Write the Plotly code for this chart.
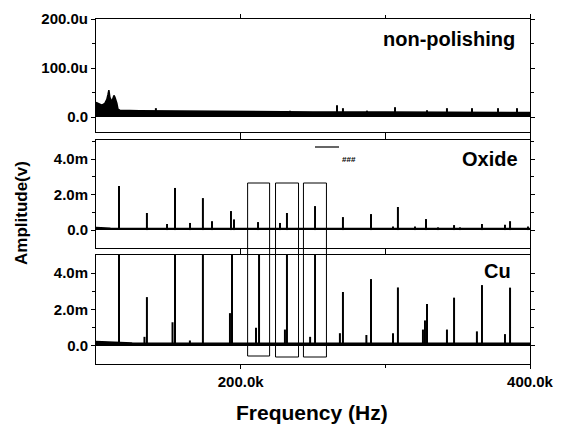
import plotly.graph_objects as go

# ---------------- data (frequency in Hz) ----------------
# non-polishing panel: noise envelope (Hz, V) and small spikes
np_band_freq = [100.0e3, 102.0e3, 104.1e3, 106.1e3, 107.5e3, 108.3e3, 108.9e3, 109.6e3,
                110.3e3, 111.0e3, 111.7e3, 112.4e3, 113.1e3, 113.8e3, 114.4e3, 115.2e3,
                116.5e3, 130.0e3, 160.0e3, 200.0e3, 250.0e3, 300.0e3, 350.0e3, 400.0e3]
np_band_amp = [30e-6, 27e-6, 24e-6, 28e-6, 36e-6, 46e-6, 55e-6, 40e-6,
               33e-6, 31e-6, 38e-6, 44e-6, 40e-6, 34e-6, 28e-6, 16e-6,
               14e-6, 13e-6, 12e-6, 11e-6, 10e-6, 10e-6, 9e-6, 9e-6]
np_peak_freq = [141.4e3, 234.1e3, 266.6e3, 270.7e3, 287.3e3, 306.7e3, 328.8e3,
                342.6e3, 359.9e3, 377.9e3, 391.0e3]
np_peak_amp = [18e-6, 13e-6, 24e-6, 18e-6, 13e-6, 20e-6, 14e-6,
               18e-6, 18e-6, 18e-6, 18e-6]

# Oxide panel
ox_band_freq = [100.0e3, 110.0e3, 200.0e3, 300.0e3, 400.0e3]
ox_band_amp = [0.14e-3, 0.10e-3, 0.09e-3, 0.09e-3, 0.09e-3]
ox_peak_freq = [115.9e3, 135.2e3, 149.1e3, 154.6e3, 165.0e3, 173.9e3, 180.2e3, 193.3e3,
                195.4e3, 212.0e3, 227.2e3, 232.0e3, 251.4e3, 270.7e3, 290.1e3, 305.3e3,
                308.7e3, 320.5e3, 328.1e3, 336.4e3, 347.5e3, 351.6e3, 366.8e3, 382.7e3,
                386.2e3, 398.6e3]
ox_peak_amp = [2.48e-3, 0.96e-3, 0.34e-3, 2.37e-3, 0.40e-3, 1.80e-3, 0.50e-3, 1.07e-3,
               0.60e-3, 0.45e-3, 0.40e-3, 0.96e-3, 1.35e-3, 0.73e-3, 0.90e-3, 0.20e-3,
               1.30e-3, 0.20e-3, 0.62e-3, 0.15e-3, 0.28e-3, 0.15e-3, 0.34e-3, 0.30e-3,
               0.50e-3, 0.20e-3]

# Cu panel
cu_band_freq = [100.0e3, 112.0e3, 118.0e3, 125.0e3, 200.0e3, 300.0e3, 400.0e3]
cu_band_amp = [0.24e-3, 0.22e-3, 0.18e-3, 0.16e-3, 0.15e-3, 0.15e-3, 0.15e-3]
cu_peak_freq = [115.9e3, 135.2e3, 154.6e3, 173.9e3, 194.0e3, 212.7e3, 232.0e3, 251.4e3,
                270.7e3, 290.1e3, 308.7e3, 328.8e3, 347.5e3, 366.8e3, 386.2e3]
cu_peak_amp = [6.0e-3, 2.68e-3, 6.0e-3, 6.0e-3, 6.0e-3, 6.0e-3, 6.0e-3, 6.0e-3,
               2.96e-3, 3.67e-3, 3.21e-3, 2.30e-3, 2.65e-3, 3.34e-3, 3.20e-3]
cu_side_freq = [133.5e3, 152.9e3, 164.9e3, 192.6e3, 210.6e3, 230.6e3, 248.0e3, 268.6e3,
                286.9e3, 305.3e3, 326.0e3, 327.4e3, 342.6e3, 363.3e3, 382.7e3]
cu_side_amp = [0.5e-3, 1.3e-3, 0.3e-3, 1.8e-3, 1.0e-3, 0.9e-3, 0.5e-3, 0.7e-3,
               0.6e-3, 0.7e-3, 0.9e-3, 1.4e-3, 0.9e-3, 0.8e-3, 0.65e-3]

# boxes (Hz)
box_x0 = [204.8e3, 224.1e3, 243.4e3]
box_x1 = [220.0e3, 240.0e3, 259.3e3]
box_bottom_px = [356, 357, 357]

panel_labels = ["non-polishing", "Oxide", "Cu"]
x_tickvals = [200e3, 400e3]
x_ticktext = ["200.0k", "400.0k"]
u_tickvals = [0, 100e-6, 200e-6]
u_ticktext = ["0.0", "100.0u", "200.0u"]
m_tickvals = [0, 2e-3, 4e-3]
m_ticktext = ["0.0", "2.0m", "4.0m"]

# ---------------- layout geometry ----------------
W, H = 562, 426
ML, MR, MT, MB = 96, 32, 19, 62
PW, PH = W - ML - MR, H - MT - MB


def py(p):  # pixel y -> paper y
    return (H - MB - p) / PH


def px(p):  # pixel x -> paper x
    return (p - ML) / PW


FONT = "Liberation Sans"
fig = go.Figure()


def add_panel(band_f, band_a, pk_f, pk_a, xa, ya, extra=None):
    fig.add_trace(go.Scatter(x=band_f, y=band_a, mode="lines", fill="tozeroy",
                             line=dict(color="black", width=1.5), fillcolor="black",
                             xaxis=xa, yaxis=ya, showlegend=False, hoverinfo="skip"))
    sx, sy = [], []
    for f, a in zip(pk_f, pk_a):
        sx += [f, f, None]
        sy += [0, a, None]
    if extra:
        for f, a in zip(*extra):
            sx += [f, f, None]
            sy += [0, a, None]
    fig.add_trace(go.Scatter(x=sx, y=sy, mode="lines", line=dict(color="black", width=2),
                             xaxis=xa, yaxis=ya, showlegend=False, hoverinfo="skip"))


add_panel(np_band_freq, np_band_amp, np_peak_freq, np_peak_amp, "x", "y")
add_panel(ox_band_freq, ox_band_amp, ox_peak_freq, ox_peak_amp, "x2", "y2")
add_panel(cu_band_freq, cu_band_amp, cu_peak_freq, cu_peak_amp, "x3", "y3",
          extra=(cu_side_freq, cu_side_amp))

axis_common = dict(showline=True, linecolor="black", linewidth=1, mirror="allticks",
                   ticks="outside", ticklen=4, tickcolor="black", showgrid=False,
                   zeroline=False, automargin=False)
tickfont = dict(family=FONT, size=15, color="black", weight="bold")

doms = {"y": [py(132), py(19)], "y2": [py(248), py(140)], "y3": [py(364), py(255)]}
yranges = {"y": [-30.6e-6, 200e-6], "y2": [-1.01e-3, 5.07e-3], "y3": [-0.99e-3, 4.99e-3]}

layout = dict(width=W, height=H, margin=dict(l=ML, r=MR, t=MT, b=MB, autoexpand=False),
              paper_bgcolor="white", plot_bgcolor="white", showlegend=False)

for i, (xa, ya) in enumerate([("xaxis", "yaxis"), ("xaxis2", "yaxis2"), ("xaxis3", "yaxis3")]):
    yid = ["y", "y2", "y3"][i]
    layout[xa] = dict(axis_common, range=[100e3, 400e3], anchor=yid, domain=[0, 1],
                      tickvals=x_tickvals, ticktext=x_ticktext,
                      showticklabels=(i == 2), tickfont=tickfont,
                      minor=dict(tickvals=[300e3], ticks="outside", ticklen=3,
                                 tickcolor="black"))
    tv, tt = (u_tickvals, u_ticktext) if i == 0 else (m_tickvals, m_ticktext)
    minor_vals = [50e-6, 150e-6] if i == 0 else [1e-3, 3e-3, 5e-3]
    layout[ya] = dict(axis_common, range=yranges[yid], domain=doms[yid],
                      anchor=["x", "x2", "x3"][i], tickvals=tv, ticktext=tt,
                      tickfont=tickfont,
                      minor=dict(tickvals=minor_vals, ticks="outside", ticklen=3,
                                 tickcolor="black"))

fig.update_layout(**layout)

# panel labels
lab_pos = [(517, 39), (520, 159), (513, 271)]
for t, (lx, ly) in zip(panel_labels, lab_pos):
    fig.add_annotation(text=t, xref="paper", yref="paper", x=px(lx), y=py(ly),
                       xanchor="right", yanchor="middle", showarrow=False,
                       font=dict(family=FONT, size=20, color="black", weight="bold"))

# axis titles
fig.add_annotation(text="Amplitude(v)", xref="paper", yref="paper", x=px(21), y=py(213),
                   xanchor="center", yanchor="middle", textangle=-90, showarrow=False,
                   font=dict(family=FONT, size=17, color="black", weight="bold"))
fig.add_annotation(text="Frequency (Hz)", xref="paper", yref="paper", x=px(312), y=py(412),
                   xanchor="center", yanchor="middle", showarrow=False,
                   font=dict(family=FONT, size=21, color="black", weight="bold"))

# boxes
for x0, x1, bp in zip(box_x0, box_x1, box_bottom_px):
    fig.add_shape(type="rect", xref="x3", yref="paper", x0=x0, x1=x1,
                  y0=py(bp), y1=py(183), line=dict(color="black", width=1))

# stray legend remnant
fig.add_shape(type="line", xref="paper", yref="paper", x0=px(315), x1=px(339),
              y0=py(147), y1=py(147), line=dict(color="black", width=1.2))
fig.add_annotation(text="###", xref="paper", yref="paper", x=px(349), y=py(159),
                   showarrow=False, font=dict(family=FONT, size=8, color="black",
                                              weight="bold"))

fig.write_html("out.html")
